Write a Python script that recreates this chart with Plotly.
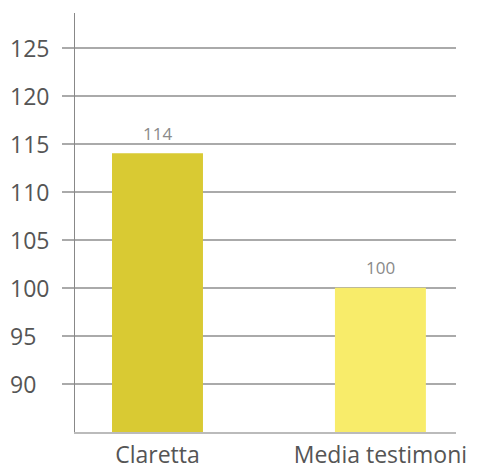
import plotly.graph_objects as go

categories = ["Claretta", "Media testimoni"]
values = [114, 100]
bar_colors = ["#D9CA33", "#F8EC6A"]
y_ticks = [90, 95, 100, 105, 110, 115, 120, 125]
y_tick_labels = ["90", "95", "100", "105", "110", "115", "120", "125"]

FONT = "Open Sans"
W, H = 483, 465
ML, MR, MT, MB = 67, 35, 5, 41

fig = go.Figure()
fig.add_trace(go.Bar(
    x=[0, 1], y=values, marker=dict(color=bar_colors, line=dict(width=0)),
    width=0.408, hoverinfo="skip",
))

annotations = []
for xi, v in enumerate(values):
    annotations.append(dict(x=xi, y=v, xref="x", yref="y", text=str(v), showarrow=False,
                            yshift=20, yanchor="middle", xanchor="center",
                            font=dict(family=FONT, size=17, color="#8a8a8a")))
for tv, tl in zip(y_ticks, y_tick_labels):
    annotations.append(dict(x=(0 - ML) / (W - ML - MR), y=tv, xref="paper", yref="y", text=tl,
                            showarrow=False, xanchor="left", yanchor="middle",
                            font=dict(family=FONT, size=23, color="#555555")))

fig.update_layout(
    width=W, height=H,
    margin=dict(l=ML, r=MR, t=MT, b=MB),
    paper_bgcolor="white", plot_bgcolor="white",
    showlegend=False,
    annotations=annotations,
    xaxis=dict(range=[-0.37, 1.339], tickvals=[0, 1], ticktext=categories,
               showgrid=False, zeroline=False, showline=True, linecolor="#bbbbbb", linewidth=1.5,
               ticks="", ticklabelstandoff=2, automargin=False,
               tickfont=dict(family=FONT, size=23, color="#555555")),
    yaxis=dict(range=[85, 128.6], tickvals=y_ticks, showticklabels=False, automargin=False,
               showgrid=True, gridcolor="#aaaaaa", gridwidth=1.5, zeroline=False,
               showline=True, linecolor="#888888", linewidth=1,
               ticks="outside", ticklen=12, tickcolor="#aaaaaa", tickwidth=1.5),
)

fig.write_html("out.html")
